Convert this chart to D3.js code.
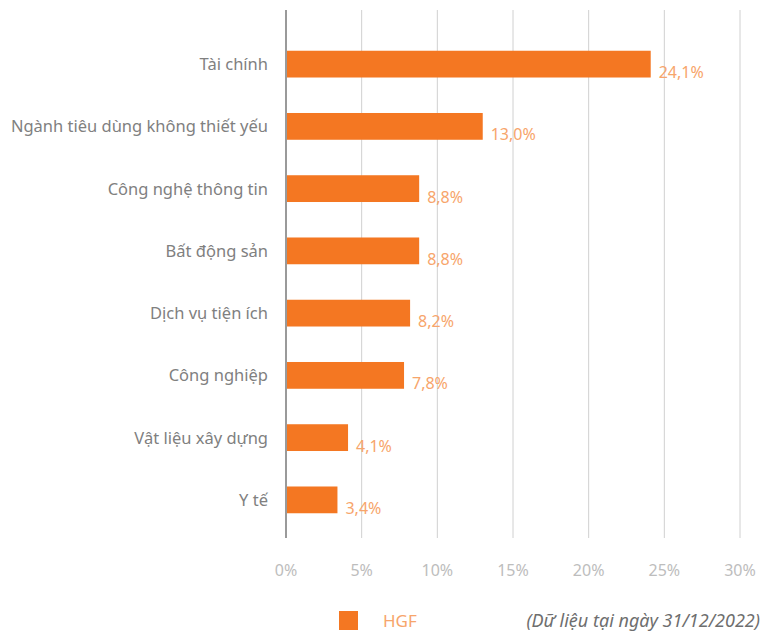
<!DOCTYPE html>
<html>
<head>
<meta charset="utf-8">
<script src="https://cdn.jsdelivr.net/npm/d3@7"></script>
<style>
  body { margin: 0; background: #fff; }
  text { font-family: "Noto Sans", "Open Sans", sans-serif; }
</style>
</head>
<body>
<div id="chart"></div>
<script>
// dữ liệu phân bổ ngành
var categories = ["Tài chính", "Ngành tiêu dùng không thiết yếu", "Công nghệ thông tin", "Bất động sản",
  "Dịch vụ tiện ích", "Công nghiệp", "Vật liệu xây dựng", "Y tế"];
var values = [24.1, 13.0, 8.8, 8.8, 8.2, 7.8, 4.1, 3.4];
var ticks = [0, 5, 10, 15, 20, 25, 30];
var seriesName = "HGF";
var note = "(Dữ liệu tại ngày 31/12/2022)";

var W = 774, H = 633;
var barColor = "#f47722";
var labelColor = "#f7a56b";

var svg = d3.select("#chart").append("svg")
  .attr("width", W)
  .attr("height", H);

var x = d3.scaleLinear().domain([0, 30]).range([286, 740]);
var y = d3.scaleBand().domain(categories).range([33, 531]).paddingInner(0.57).paddingOuter(0.285);

// lưới dọc
svg.selectAll(".grid")
  .data(ticks.slice(1))
  .enter().append("line")
  .attr("x1", function(d) { return x(d); })
  .attr("x2", function(d) { return x(d); })
  .attr("y1", 10)
  .attr("y2", 538)
  .attr("stroke", "#d0d0d0")
  .attr("stroke-width", 1);

// nhãn trục x
svg.selectAll(".tick")
  .data(ticks)
  .enter().append("text")
  .attr("x", function(d) { return x(d); })
  .attr("y", 576)
  .attr("text-anchor", "middle")
  .attr("fill", "#bdbdbd")
  .style("font-size", "16px")
  .text(function(d) { return d + "%"; });

svg.selectAll(".bar")
  .data(values)
  .enter().append("rect")
  .attr("x", x(0))
  .attr("y", function(d, i) { return y(categories[i]); })
  .attr("width", function(d) { return x(d) - x(0); })
  .attr("height", y.bandwidth())
  .attr("fill", barColor);

// trục 0
svg.append("line")
  .attr("x1", x(0)).attr("x2", x(0))
  .attr("y1", 10).attr("y2", 538)
  .attr("stroke", "#9a9a9a")
  .attr("stroke-width", 2);

svg.selectAll(".cat")
  .data(categories)
  .enter().append("text")
  .attr("x", 268)
  .attr("y", function(d) { return y(d) + y.bandwidth() / 2 + 6; })
  .attr("text-anchor", "end")
  .attr("fill", "#808080")
  .style("font-size", "16.5px")
  .text(function(d) { return d; });

svg.selectAll(".val")
  .data(values)
  .enter().append("text")
  .attr("x", function(d) { return x(d) + 8; })
  .attr("y", function(d, i) { return y(categories[i]) + y.bandwidth() / 2 + 14; })
  .attr("fill", labelColor)
  .style("font-size", "16px")
  .text(function(d) { return d.toFixed(1).replace(".", ",") + "%"; });

// chú thích
svg.append("rect")
  .attr("x", 339).attr("y", 611)
  .attr("width", 19).attr("height", 19)
  .attr("fill", barColor);

svg.append("text")
  .attr("x", 383).attr("y", 627)
  .attr("fill", labelColor)
  .style("font-size", "17px")
  .text(seriesName);

svg.append("text")
  .attr("x", 760).attr("y", 627)
  .attr("text-anchor", "end")
  .attr("fill", "#6e6e6e")
  .style("font-size", "18px")
  .style("font-style", "italic")
  .text(note);
</script>
</body>
</html>
